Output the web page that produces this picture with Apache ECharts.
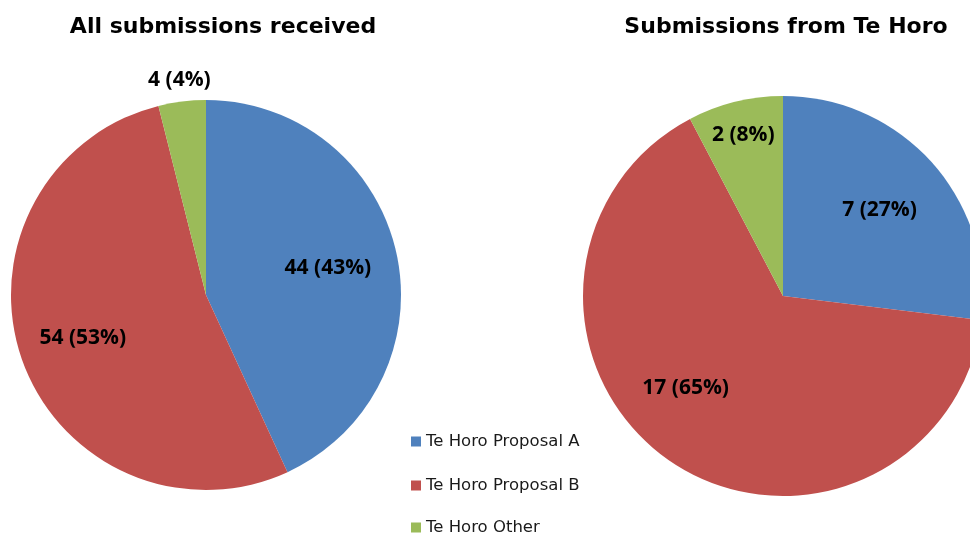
<!DOCTYPE html>
<html><head><meta charset="utf-8">
<script src="https://cdn.jsdelivr.net/npm/echarts@6/dist/echarts.min.js"></script>
<style>html,body{margin:0;padding:0;background:#fff}#c{width:970px;height:537px}</style>
</head><body><div id="c"></div>
<script>
const categories = ['Te Horo Proposal A', 'Te Horo Proposal B', 'Te Horo Other'];
const allValues = [44, 54, 4];
const allPercents = [43, 53, 4];
const teHoroValues = [7, 17, 2];
const teHoroPercents = [27, 65, 8];
const titles = ['All submissions received', 'Submissions from Te Horo'];
const colors = ['#4F81BD', '#C0504D', '#9BBB59'];

// label placement styles: radial factor and angular shift (degrees)
const leftLabelK = [0.64, 0.67, 1.11];
const leftLabelShift = [0, 0, 0];
const rightLabelK = [0.645, 0.67, 0.83];
const rightLabelShift = [0, 12, 0];
// legend row tops (layout)
const legendTops = [433, 477, 519];

function buildData(values, percents, R, ks, shifts) {
  const total = values.reduce((a, b) => a + b, 0);
  let acc = 0;
  return values.map((v, i) => {
    const startDeg = acc / total * 360;
    acc += v;
    const endDeg = acc / total * 360;
    const mid = (startDeg + endDeg) / 2; // clockwise from top
    const a = (90 - mid) * Math.PI / 180;
    const a2 = (90 - mid - shifts[i]) * Math.PI / 180;
    const baseR = R / 2 + 3;
    const tx = ks[i] * R * Math.cos(a2), ty = -ks[i] * R * Math.sin(a2);
    const bx = baseR * Math.cos(a), by = -baseR * Math.sin(a);
    return {
      name: categories[i],
      value: v,
      pct: percents[i],
      itemStyle: { color: colors[i] },
      label: { offset: [tx - bx, ty - by] }
    };
  });
}

const labelStyle = {
  show: true,
  position: 'inside',
  color: '#000',
  fontFamily: 'Open Sans',
  fontWeight: 'bold',
  fontSize: 21,
  formatter: p => p.value + ' (' + p.data.pct + '%)'
};

const chart = echarts.init(document.getElementById('c'), null, { renderer: 'canvas' });
chart.setOption({
  animation: false,
  backgroundColor: '#fff',
  title: [
    { text: titles[0], left: 218, top: 11, textAlign: 'center',
      textStyle: { fontFamily: 'DejaVu Sans', fontWeight: 'bold', fontSize: 22, color: '#000' } },
    { text: titles[1], left: 781, top: 11, textAlign: 'center',
      textStyle: { fontFamily: 'DejaVu Sans', fontWeight: 'bold', fontSize: 22, color: '#000' } }
  ],
  legend: categories.map((c, i) => ({
    orient: 'vertical',
    left: 411,
    top: legendTops[i],
    padding: 0,
    icon: 'rect',
    itemWidth: 10,
    itemHeight: 10,
    data: [c],
    textStyle: { fontFamily: 'DejaVu Sans', fontSize: 16.5, color: '#1a1a1a' }
  })),
  series: [
    {
      type: 'pie',
      center: [206, 295],
      radius: 195,
      startAngle: 90,
      clockwise: true,
      silent: true,
      label: labelStyle,
      labelLine: { show: false },
      itemStyle: { borderWidth: 0 },
      data: buildData(allValues, allPercents, 195, leftLabelK, leftLabelShift)
    },
    {
      type: 'pie',
      center: [783, 296],
      radius: 200,
      startAngle: 90,
      clockwise: true,
      silent: true,
      label: labelStyle,
      labelLine: { show: false },
      itemStyle: { borderWidth: 0 },
      data: buildData(teHoroValues, teHoroPercents, 200, rightLabelK, rightLabelShift)
    }
  ]
});
</script></body></html>
